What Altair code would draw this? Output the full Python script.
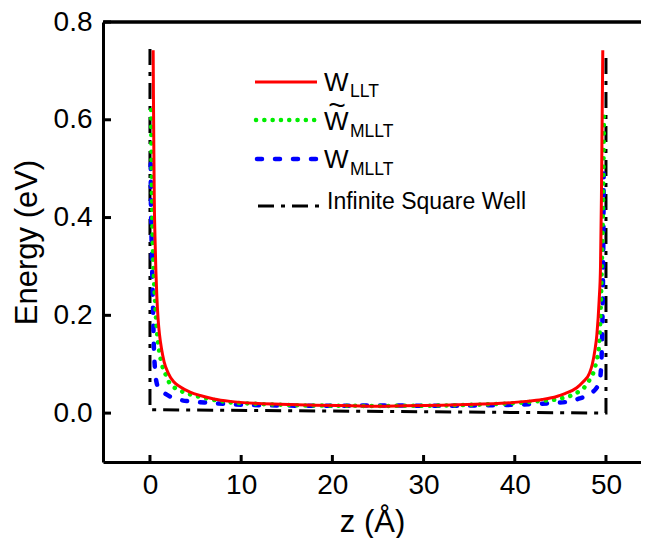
import altair as alt
import pandas as pd

# ---------------- data ----------------
LLT_Z = [0.35, 0.38, 0.42, 0.47, 0.55, 0.65, 0.75, 0.9, 1.05, 1.28, 1.55, 2.0, 2.6, 3.3, 4.4, 5.5, 7.0, 8.8, 11.5, 14.3,
         18.0, 22.0, 25.0, 28.0, 32.0, 35.7, 38.5, 41.2, 43.0, 44.6, 45.5, 46.8, 47.5, 48.2, 48.5, 48.8, 49.0, 49.25,
         49.4, 49.5, 49.58, 49.65]
LLT_E = [0.742, 0.65, 0.55, 0.44, 0.36, 0.29, 0.24, 0.19, 0.16, 0.13, 0.105, 0.082, 0.064, 0.054, 0.043, 0.036, 0.029,
         0.024, 0.02, 0.018, 0.016, 0.015, 0.014, 0.015, 0.016, 0.018, 0.02, 0.024, 0.028, 0.034, 0.04, 0.052, 0.064,
         0.082, 0.1, 0.13, 0.16, 0.23, 0.3, 0.44, 0.6, 0.742]

MLLT_T_Z = [0.12, 0.16, 0.22, 0.3, 0.42, 0.55, 0.75, 1.0, 1.3, 1.65, 2.1, 2.7, 3.3, 4.3, 5.5, 7.0, 8.8, 11.5, 14.5,
            18.0, 22.0, 25.0, 28.0, 32.0, 35.5, 38.5, 41.2, 43.0, 44.6, 45.5, 46.2, 47.1, 47.6, 48.2, 48.6, 49.0,
            49.2, 49.45, 49.6, 49.7, 49.78]
MLLT_T_E = [0.62, 0.52, 0.436, 0.35, 0.28, 0.231, 0.17, 0.129, 0.1, 0.082, 0.063, 0.052, 0.046, 0.039, 0.033, 0.027,
            0.022, 0.019, 0.017, 0.0155, 0.015, 0.0145, 0.015, 0.0155, 0.017, 0.019, 0.022, 0.025, 0.028, 0.032,
            0.036, 0.045, 0.052, 0.068, 0.082, 0.11, 0.13, 0.23, 0.35, 0.45, 0.61]

MLLT_Z = [0.08, 0.1, 0.15, 0.2, 0.32, 0.42, 0.55, 0.73, 1.0, 1.64, 2.3, 3.1, 4.9, 6.5, 8.8, 13.0, 18.0, 25.0, 32.0,
          37.0, 41.5, 44.5, 45.7, 47.1, 47.7, 48.6, 48.9, 49.3, 49.5, 49.62, 49.7, 49.75]
MLLT_E = [0.51, 0.44, 0.38, 0.33, 0.23, 0.14, 0.09, 0.062, 0.05, 0.04, 0.033, 0.028, 0.023, 0.021, 0.018, 0.016, 0.015,
          0.0155, 0.015, 0.016, 0.018, 0.021, 0.023, 0.03, 0.034, 0.044, 0.05, 0.065, 0.108, 0.2, 0.33, 0.49]

WELL_Z = [0.0, 0.0, 50.0, 50.0]
WELL_E = [0.745, 0.007, 0.0, 0.737]

X_TICKS = [0, 10, 20, 30, 40, 50]
Y_TICKS = [0.0, 0.2, 0.4, 0.6, 0.8]
Y_TOP = [0.8]
LEGEND_MAIN = ["W", "W", "W", "Infinite Square Well"]
LEGEND_SUB = ["LLT", "MLLT", "MLLT", ""]
X_TITLE = "z (Å)"
Y_TITLE = "Energy (eV)"

# ---------------- chart ----------------
FONT = "Liberation Sans"
W, H = 538, 440
xs = alt.Scale(domain=[-5.15, 53.84], nice=False, zero=False)
ys = alt.Scale(domain=[-0.1, 0.8], nice=False, zero=False)

x_axis = alt.Axis(values=X_TICKS, ticks=False, grid=False, labelFont=FONT, labelFontSize=28, labelPadding=9,
                  labelFlush=False, domainColor="black", domainWidth=3, labelColor="black",
                  title=X_TITLE, titleFont=FONT, titleFontSize=31, titleFontWeight="normal", titleColor="black",
                  titleY=69, titleBaseline="alphabetic")
y_axis = alt.Axis(values=Y_TICKS, format=".1f", ticks=False, grid=False, labelFont=FONT, labelFontSize=28,
                  labelPadding=11, labelFlush=False, domainColor="black", domainWidth=3, labelColor="black",
                  title=Y_TITLE, titleFont=FONT, titleFontSize=31, titleFontWeight="normal", titleColor="black",
                  titleAngle=270, titleX=-67, titleY=220, titleBaseline="alphabetic", titleAlign="center")


def sdf(z, e):
    return pd.DataFrame({"z": z, "E": e, "i": list(range(len(z)))})


def curve(z, e, **mk):
    return alt.Chart(sdf(z, e)).mark_line(**mk).encode(
        x=alt.X("z:Q", scale=xs, axis=x_axis),
        y=alt.Y("E:Q", scale=ys, axis=y_axis),
        order="i:Q",
    )


well = curve(WELL_Z, WELL_E, color="black", strokeWidth=3, strokeDash=[16, 7, 4, 7])
blue = curve(MLLT_Z, MLLT_E, color="#0000ff", strokeWidth=4.5, strokeDash=[5, 13], strokeCap="round",
             interpolate="monotone")
green = curve(MLLT_T_Z, MLLT_T_E, color="#00ee00", strokeWidth=4.5, strokeDash=[0.1, 8.2], strokeCap="round",
              interpolate="monotone")
red = curve(LLT_Z, LLT_E, color="#ff0000", strokeWidth=3, interpolate="monotone")

xt = alt.Chart(pd.DataFrame({"t": X_TICKS})).mark_rule(color="black", strokeWidth=3).encode(
    x=alt.X("t:Q", scale=xs, axis=x_axis), y=alt.value(H), y2=alt.value(H - 7))
yt = alt.Chart(pd.DataFrame({"t": Y_TICKS})).mark_rule(color="black", strokeWidth=3).encode(
    y=alt.Y("t:Q", scale=ys, axis=y_axis), x=alt.value(1), x2=alt.value(8))
top = alt.Chart(pd.DataFrame({"t": Y_TOP})).mark_rule(color="black", strokeWidth=3).encode(
    y=alt.Y("t:Q", scale=ys, axis=y_axis), x=alt.value(0), x2=alt.value(W))

one = pd.DataFrame({"a": [0]})
top_band = alt.Chart(one).mark_rect(color="black").encode(
    x=alt.value(0), x2=alt.value(W), y=alt.value(-1.5), y2=alt.value(1.5))


def leg_line(x1, x2, y, **mk):
    return alt.Chart(one).mark_rule(**mk).encode(x=alt.value(x1), x2=alt.value(x2), y=alt.value(y))


def leg_text(x, y, txt, size, align="left"):
    return alt.Chart(one).mark_text(align=align, baseline="alphabetic", font=FONT, fontSize=size,
                                    color="black").encode(x=alt.value(x), y=alt.value(y), text=alt.value(txt))


legend = [
    leg_line(152, 214, 60, color="#ff0000", strokeWidth=3),
    leg_line(153, 212, 98, color="#00ee00", strokeWidth=4.5, strokeDash=[0.1, 8.2], strokeCap="round"),
    leg_line(154, 214, 137, color="#0000ff", strokeWidth=4.5, strokeDash=[5, 13], strokeCap="round"),
    leg_line(155, 217, 184, color="black", strokeWidth=3, strokeDash=[16, 7, 4, 7]),
    leg_text(221, 69, LEGEND_MAIN[0], 26),
    leg_text(247, 75, LEGEND_SUB[0], 17.5),
    leg_text(221, 108, LEGEND_MAIN[1], 26),
    leg_text(234, 93, "~", 30, align="center"),
    leg_text(247, 115, LEGEND_SUB[1], 17.5),
    leg_text(221, 146, LEGEND_MAIN[2], 26),
    leg_text(247, 153, LEGEND_SUB[2], 17.5),
    leg_text(224, 187, LEGEND_MAIN[3], 23),
]

chart = alt.layer(top, top_band, well, blue, green, red, xt, yt, *legend).properties(
    width=W, height=H,
    autosize=alt.AutoSizeParams(type="none"),
    padding={"left": 95, "top": 14, "right": 0, "bottom": 76},
).configure_view(stroke=None)

chart.save("out.html", embed_options={"renderer": "svg", "actions": False})
